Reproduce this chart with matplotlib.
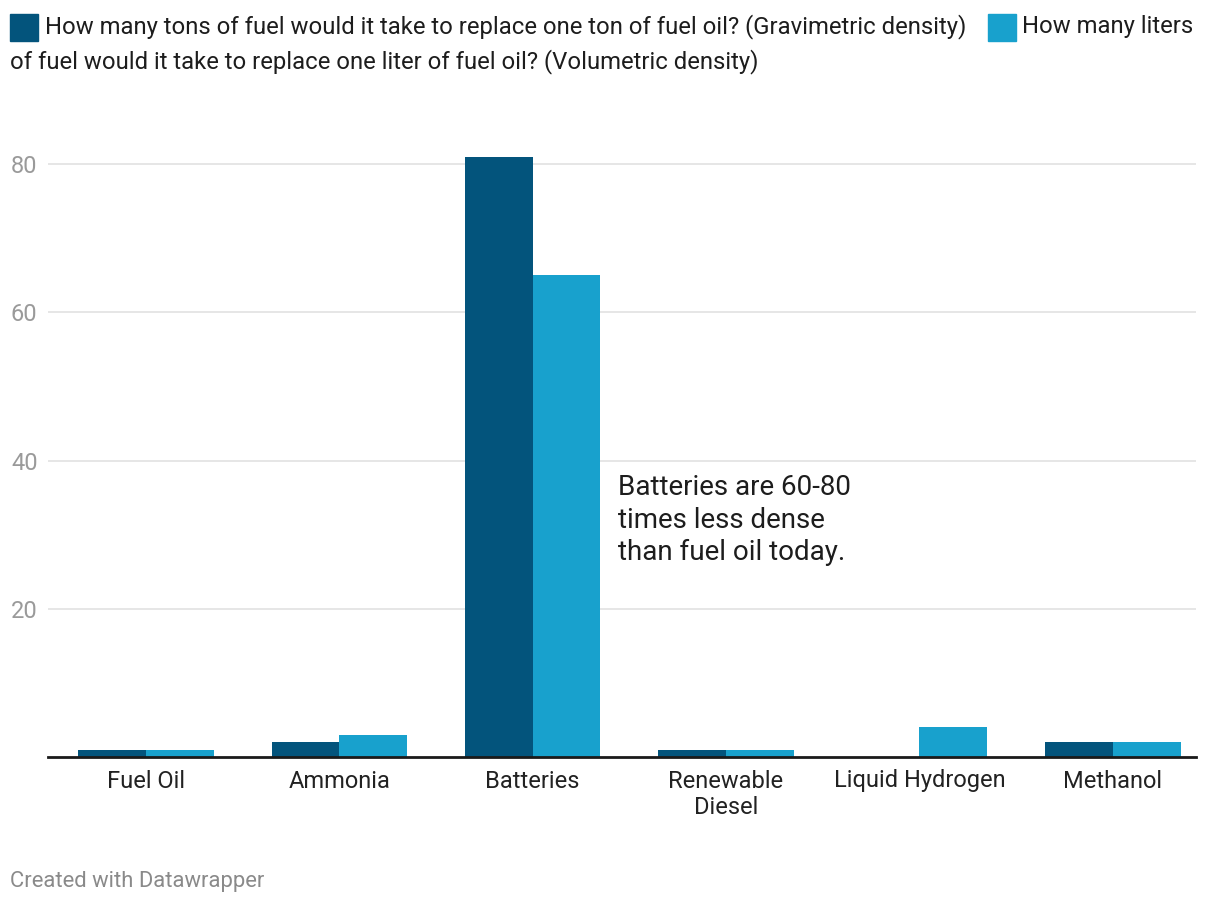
import numpy as np
import matplotlib
matplotlib.use('Agg')
import matplotlib.pyplot as plt
from matplotlib.patches import Rectangle

plt.rcParams['font.family'] = ['Roboto', 'DejaVu Sans']

categories = ['Fuel Oil', 'Ammonia', 'Batteries', 'Renewable\nDiesel', 'Liquid Hydrogen', 'Methanol']
gravimetric = [1, 2, 81, 1, 0, 2]
volumetric = [1, 3, 65, 1, 4, 2]
series_names = ['How many tons of fuel would it take to replace one ton of fuel oil? (Gravimetric density)',
                'How many liters of fuel would it take to replace one liter of fuel oil? (Volumetric density)']
y_ticks = [20, 40, 60, 80]

dark = '#03547c'
light = '#18a1cd'

fig = plt.figure(figsize=(12.2, 9.06), dpi=100)
ax = fig.add_axes([48 / 1220, 1 - 757 / 906, 1148 / 1220, (757 - 142) / 906])

x = np.arange(len(categories))
w = 0.35
ax.bar(x - w / 2, gravimetric, w, color=dark, linewidth=0)
ax.bar(x + w / 2, volumetric, w, color=light, linewidth=0)

ax.set_xlim(-0.506, 5.43)
ax.set_ylim(0, 83)
ax.set_yticks(y_ticks)
ax.set_yticklabels([str(t) for t in y_ticks])
ax.grid(axis='y', color='#e1e1e1', linewidth=1.2)
ax.set_axisbelow(True)
for s in ['top', 'right', 'left']:
    ax.spines[s].set_visible(False)
ax.spines['bottom'].set_color('#1a1a1a')
ax.spines['bottom'].set_linewidth(2)
ax.tick_params(axis='y', length=0, pad=7.5, labelsize=17, labelcolor='#9a9a9a')
ax.tick_params(axis='x', length=0, pad=9, labelsize=17, labelcolor='#222222')
ax.set_xticks(x)
ax.set_xticklabels(categories, linespacing=1.2)

# annotation
ax.text(2.44, 38.2, 'Batteries are 60-80\ntimes less dense\nthan fuel oil today.',
        fontsize=20, color='#1d1d1d', va='top', ha='left', linespacing=1.27)

# legend, datawrapper style (inline, wrapped)
H = 906
fig.patches.append(Rectangle((10 / 1220, 1 - 41 / H), 28 / 1220, 27 / H,
                             transform=fig.transFigure, color=dark, zorder=3))
fig.patches.append(Rectangle((988 / 1220, 1 - 41 / H), 28 / 1220, 27 / H,
                             transform=fig.transFigure, color=light, zorder=3))
fig.text(45 / 1220, 1 - 27 / H, series_names[0], fontsize=17.2, color='#1d1d1d', va='center')
fig.text(1022 / 1220, 1 - 27 / H, 'How many liters', fontsize=17.2, color='#1d1d1d', va='center')
fig.text(10 / 1220, 1 - 62 / H, 'of fuel would it take to replace one liter of fuel oil? (Volumetric density)',
         fontsize=17.2, color='#1d1d1d', va='center')

fig.text(10 / 1220, 1 - 881 / H, 'Created with Datawrapper', fontsize=15.8, color='#8a8a8a', va='center')

fig.savefig('out.png', dpi=100, facecolor='white')
